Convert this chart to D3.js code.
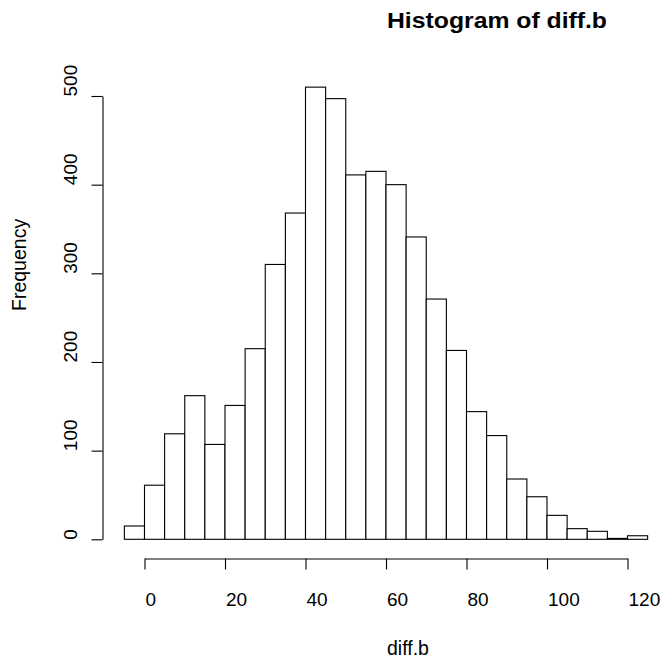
<!DOCTYPE html>
<html>
<head>
<meta charset="utf-8">
<script src="https://cdn.jsdelivr.net/npm/d3@7"></script>
<style>
	html, body { margin: 0; padding: 0; background: #fff; }
	svg { display: block; }
</style>
</head>
<body>
<div id="chart"></div>
<script>
// histogram bins (left edges, width 5) and their counts
const BIN_STARTS = [-5, 0, 5, 10, 15, 20, 25, 30, 35, 40, 45, 50, 55, 60, 65, 70, 75, 80, 85, 90, 95, 100, 105, 110, 115, 120];
const BIN_WIDTH = 5;
const COUNTS = [15, 61, 119, 162, 107, 151, 215, 310, 368, 510, 497, 411, 415, 400, 341, 271, 213, 144, 117, 68, 48, 27, 12, 9, 1, 4];

// tick labels
const X_TICKS = [0, 20, 40, 60, 80, 100, 120];
const Y_TICKS = [0, 100, 200, 300, 400, 500];

const TITLE = 'Histogram of diff.b';
const X_LABEL = 'diff.b';
const Y_LABEL = 'Frequency';

//size of the canvas
const CANVAS = { w: 665, h: 660 };
const FONT = '"Liberation Sans", Arial, Helvetica, sans-serif';

//where the data lands on the page
const X_RANGE = [144.5, 627.5];
const Y_RANGE = [539.3, 96];
const X_AXIS_Y = 558.5;
const Y_AXIS_X = 102.5;
const TICK_LEN = 11;

const x = d3.scaleLinear()
	.domain([0, 120])
	.range(X_RANGE);

const y = d3.scaleLinear()
	.domain([0, 500])
	.range(Y_RANGE);

const svg = d3.select('#chart')
	.append('svg')
	.attr('width', CANVAS.w)
	.attr('height', CANVAS.h)
	.attr('viewBox', `0 0 ${CANVAS.w} ${CANVAS.h}`)
	.attr('font-family', FONT);

// bars
svg.append('g')
	.attr('class', 'bars')
	.selectAll('rect')
	.data(COUNTS.map((c, i) => ({ x0: BIN_STARTS[i], x1: BIN_STARTS[i] + BIN_WIDTH, count: c })))
	.join('rect')
	.attr('x', d => x(d.x0))
	.attr('width', d => x(d.x1) - x(d.x0))
	.attr('y', d => y(d.count))
	.attr('height', d => y(0) - y(d.count))
	.attr('fill', '#fff')
	.attr('stroke', '#000')
	.attr('stroke-width', 1.1);

// x axis
svg.append('g')
	.attr('class', 'x-axis')
	.attr('transform', `translate(0,${X_AXIS_Y})`)
	.call(d3.axisBottom(x)
		.tickValues(X_TICKS)
		.tickSize(TICK_LEN)
		.tickSizeOuter(0)
		.tickFormat(d3.format('d')))
	.call(g => {
		g.select('.domain').attr('stroke', '#000').attr('stroke-width', 1.1);
		g.selectAll('.tick line').attr('stroke', '#000').attr('stroke-width', 1.1);
		g.selectAll('.tick text')
			.attr('fill', '#000')
			.attr('font-size', 19)
			.attr('font-family', FONT)
			.attr('text-anchor', 'start')
			.attr('x', 0.5)
			.attr('y', 47.5)
			.attr('dy', null);
	});

// y axis
svg.append('g')
	.attr('class', 'y-axis')
	.attr('transform', `translate(${Y_AXIS_X},0)`)
	.call(d3.axisLeft(y)
		.tickValues(Y_TICKS)
		.tickSize(TICK_LEN)
		.tickSizeOuter(0)
		.tickFormat(d3.format('d')))
	.call(g => {
		g.select('.domain').attr('stroke', '#000').attr('stroke-width', 1.1);
		g.selectAll('.tick line').attr('stroke', '#000').attr('stroke-width', 1.1);
		g.selectAll('.tick text')
			.attr('fill', '#000')
			.attr('font-size', 19)
			.attr('font-family', FONT)
			.attr('text-anchor', 'start')
			.attr('x', null)
			.attr('dy', null)
			.attr('transform', 'translate(-25.5,0) rotate(-90)');
	});

// title and axis labels (left-anchored at the plot centre, as in the source)
svg.append('text')
	.attr('x', 387)
	.attr('y', 28)
	.attr('font-size', 22)
	.attr('font-weight', 'bold')
	.attr('fill', '#000')
	.attr('textLength', 220)
	.attr('lengthAdjust', 'spacingAndGlyphs')
	.text(TITLE);

svg.append('text')
	.attr('x', 387)
	.attr('y', 655)
	.attr('font-size', 19.5)
	.attr('fill', '#000')
	.text(X_LABEL);

svg.append('text')
	.attr('transform', 'translate(26,311) rotate(-90)')
	.attr('font-size', 19.5)
	.attr('fill', '#000')
	.text(Y_LABEL);
</script>
</body>
</html>
